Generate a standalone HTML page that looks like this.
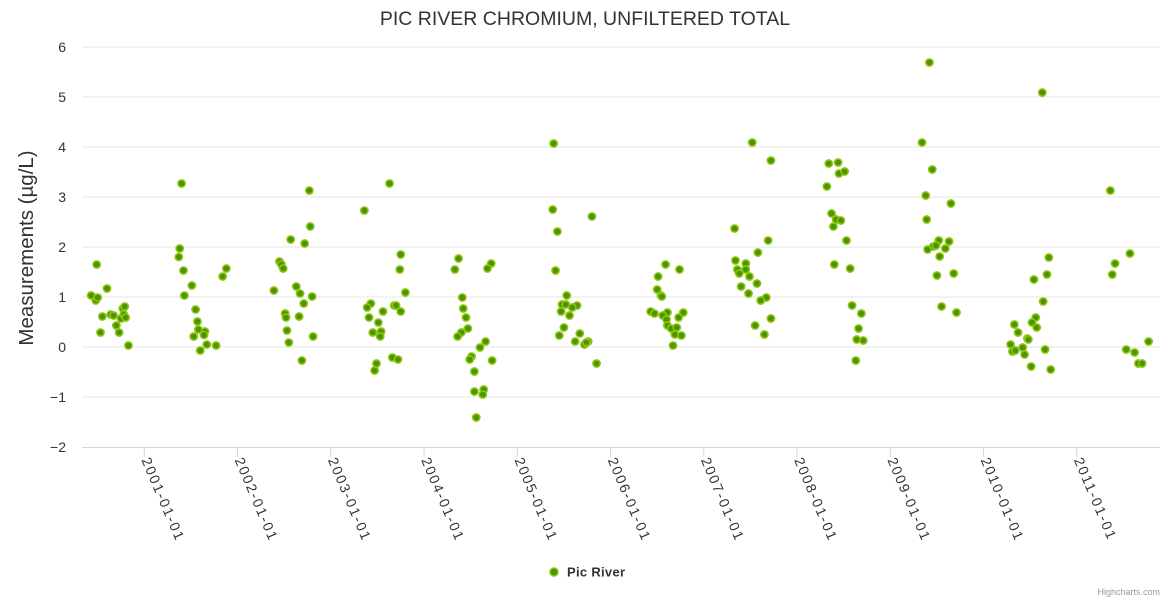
<!DOCTYPE html>
<html><head><meta charset="utf-8"><style>
html,body{margin:0;padding:0;background:#fff;}
svg{display:block;font-family:"Liberation Sans",sans-serif;}
</style></head><body>
<svg id="chart" width="1170" height="600" xmlns="http://www.w3.org/2000/svg">
<text x="585" y="25" text-anchor="middle" font-size="19.5" fill="#333">PIC RIVER CHROMIUM, UNFILTERED TOTAL</text>
<text transform="translate(33,248) rotate(-90)" text-anchor="middle" font-size="20.5" fill="#333">Measurements (µg/L)</text>
<g id="grid"></g><g id="xaxis"></g><g id="pts"></g>
<g>
<circle cx="554" cy="572" r="4" fill="#4a9400" stroke="#8cc410" stroke-width="1.5"/>
<text x="567" y="576.5" font-size="13" font-weight="bold" fill="#333" letter-spacing="0.3">Pic River</text>
</g>
<text x="1160" y="595" text-anchor="end" font-size="9" fill="#999">Highcharts.com</text>
</svg>
<script>
const yTicks=[-2,-1,0,1,2,3,4,5,6];
const xTickYears=[2001,2002,2003,2004,2005,2006,2007,2008,2009,2010,2011];
const xTickLabels=["2001-01-01","2002-01-01","2003-01-01","2004-01-01","2005-01-01","2006-01-01","2007-01-01","2008-01-01","2009-01-01","2010-01-01","2011-01-01"];
const sampleYears=[2000.49,2000.43,2000.48,2000.50,2000.60,2000.55,2000.53,2000.64,2000.67,2000.70,2000.73,2000.75,2000.77,2000.79,2000.78,2000.80,2000.83,
2001.40,2001.38,2001.37,2001.42,2001.51,2001.43,2001.55,2001.57,2001.58,2001.65,2001.64,2001.53,2001.67,2001.60,2001.77,2001.84,2001.88,
2002.77,2002.78,2002.57,2002.72,2002.45,2002.47,2002.49,2002.39,2002.63,2002.67,2002.80,2002.71,2002.51,2002.52,2002.66,2002.53,2002.81,2002.55,2002.69,
2003.36,2003.63,2003.75,2003.74,2003.80,2003.43,2003.39,2003.68,2003.70,2003.56,2003.75,2003.41,2003.51,2003.45,2003.54,2003.53,2003.66,2003.72,2003.49,2003.47,
2004.37,2004.33,2004.72,2004.68,2004.41,2004.42,2004.45,2004.47,2004.40,2004.36,2004.66,2004.60,2004.51,2004.49,2004.73,2004.54,2004.54,2004.64,2004.63,2004.56,
2005.39,2005.38,2005.43,2005.80,2005.41,2005.53,2005.48,2005.52,2005.64,2005.59,2005.47,2005.56,2005.50,2005.45,2005.67,2005.62,2005.76,2005.72,2005.74,2005.85,
2006.59,2006.74,2006.51,2006.50,2006.54,2006.55,2006.43,2006.47,2006.78,2006.61,2006.56,2006.60,2006.73,2006.61,2006.65,2006.71,2006.69,2006.76,2006.67,
2007.52,2007.72,2007.33,2007.69,2007.58,2007.34,2007.45,2007.36,2007.45,2007.38,2007.49,2007.57,2007.40,2007.48,2007.67,2007.61,2007.72,2007.55,2007.65,
2008.34,2008.44,2008.45,2008.51,2008.32,2008.37,2008.42,2008.47,2008.39,2008.53,2008.40,2008.57,2008.59,2008.69,2008.66,2008.64,2008.71,2008.63,
2009.42,2009.34,2009.45,2009.38,2009.65,2009.39,2009.52,2009.63,2009.46,2009.49,2009.59,2009.40,2009.53,2009.68,2009.50,2009.55,2009.71,
2010.63,2010.70,2010.68,2010.54,2010.64,2010.56,2010.52,2010.57,2010.33,2010.37,2010.47,2010.48,2010.29,2010.42,2010.31,2010.34,2010.66,2010.44,2010.51,2010.72,
2011.36,2011.57,2011.41,2011.38,2011.77,2011.53,2011.62,2011.66,2011.70];
const chromium=[1.65,1.03,0.93,0.99,1.17,0.61,0.29,0.65,0.63,0.43,0.29,0.57,0.77,0.81,0.65,0.59,0.03,
3.27,1.97,1.80,1.53,1.23,1.03,0.75,0.51,0.35,0.31,0.24,0.21,0.05,-0.07,0.03,1.41,1.57,
3.13,2.41,2.15,2.07,1.71,1.65,1.57,1.13,1.21,1.07,1.01,0.87,0.67,0.59,0.61,0.33,0.21,0.09,-0.27,
2.73,3.27,1.85,1.55,1.09,0.87,0.79,0.83,0.83,0.71,0.71,0.59,0.49,0.29,0.31,0.21,-0.21,-0.25,-0.33,-0.47,
1.77,1.55,1.67,1.57,0.99,0.77,0.59,0.37,0.29,0.21,0.11,-0.01,-0.19,-0.25,-0.27,-0.49,-0.89,-0.85,-0.95,-1.41,
4.07,2.75,2.31,2.61,1.53,1.03,0.85,0.85,0.83,0.79,0.71,0.63,0.39,0.23,0.27,0.11,0.11,0.05,0.09,-0.33,
1.65,1.55,1.41,1.15,1.03,1.01,0.71,0.67,0.69,0.69,0.63,0.55,0.59,0.43,0.37,0.39,0.25,0.23,0.03,
4.09,3.73,2.37,2.13,1.89,1.73,1.67,1.55,1.55,1.47,1.41,1.27,1.21,1.07,0.99,0.93,0.57,0.43,0.25,
3.67,3.69,3.47,3.51,3.21,2.67,2.55,2.53,2.41,2.13,1.65,1.57,0.83,0.67,0.37,0.15,0.13,-0.27,
5.69,4.09,3.55,3.03,2.87,2.55,2.13,2.11,2.01,2.03,1.97,1.95,1.81,1.47,1.43,0.81,0.69,
5.09,1.79,1.45,1.35,0.91,0.59,0.49,0.39,0.45,0.29,0.17,0.15,0.05,-0.01,-0.09,-0.07,-0.05,-0.15,-0.39,-0.45,
3.13,1.87,1.67,1.45,0.11,-0.05,-0.11,-0.33,-0.33];
const NS="http://www.w3.org/2000/svg";
const X0=82,X1=1160,Y0=447,Y1=47;
function xs(yr){return 144.3+(yr-2001)*93.25;}
function ys(v){return Y0-(v-(-2))/8*(Y0-Y1);}
function mk(tag,attrs,parent){const e=document.createElementNS(NS,tag);for(const k in attrs)e.setAttribute(k,attrs[k]);parent.appendChild(e);return e;}
const grid=document.getElementById('grid');
yTicks.forEach(t=>{
 const y=ys(t);
 if(t!==-2){const l=mk('line',{x1:X0,x2:X1,y1:y,y2:y,stroke:'#e6e6e6','stroke-width':1},grid);
 
 }
 const tx=mk('text',{x:66,y:y+5,'text-anchor':'end','font-size':14,fill:'#333'},grid);
 tx.textContent=t<0?'\u2212'+Math.abs(t):String(t);
 
 
});
const xa=document.getElementById('xaxis');
const axl=mk('line',{x1:X0,x2:X1,y1:Y0+0.5,y2:Y0+0.5,stroke:'#ccd6eb','stroke-width':1},xa);


xTickYears.forEach((yr,i)=>{
 const x=xs(yr);
 const tk=mk('line',{x1:x,x2:x,y1:Y0,y2:Y0+10,stroke:'#ccd6eb','stroke-width':1},xa);
 
 
 const lx=x-3,ly=Y0+13;
 const t=mk('text',{x:lx,y:ly,'font-size':14,'letter-spacing':1.8,fill:'#333',transform:`rotate(67 ${lx} ${ly})`},xa);
 t.textContent=xTickLabels[i];
 
 
});
const pts=document.getElementById('pts');
sampleYears.forEach((yr,i)=>{
 const c=mk('circle',{cx:xs(yr),cy:ys(chromium[i]),r:3.6,fill:'#4a9400',stroke:'#8cc410','stroke-width':1.6},pts);
 
 
});
</script>
</body></html>
